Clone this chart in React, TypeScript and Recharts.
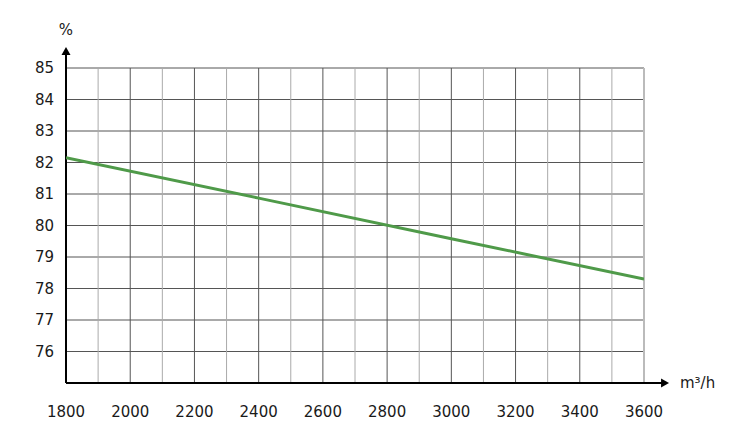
import React from "react";
import {
  LineChart,
  Line,
  XAxis,
  YAxis,
  CartesianGrid,
  ReferenceLine,
  ReferenceDot,
} from "recharts";

// efficiency curve
const airflow = [1800, 2400, 3000, 3600];
const efficiency = [82.15, 80.87, 79.58, 78.3];

const xTicks = [1800, 2000, 2200, 2400, 2600, 2800, 3000, 3200, 3400, 3600];
const yTicks = [76, 77, 78, 79, 80, 81, 82, 83, 84, 85];
const majorX = [2000, 2200, 2400, 2600, 2800, 3000, 3200, 3400];
const minorX = [1900, 2100, 2300, 2500, 2700, 2900, 3100, 3300, 3500];

const data = airflow.map((x, i) => ({ x, y: efficiency[i] }));

const FONT = "DejaVu Sans, sans-serif";
const TEXT = "#1a1a1a";

const UpArrow = (props: any) => {
  const { cx, cy } = props;
  return <path d={`M${cx},${cy} L${cx - 4.5},${cy + 8} L${cx + 4.5},${cy + 8} Z`} fill="#000" />;
};

const RightArrow = (props: any) => {
  const { cx, cy } = props;
  return <path d={`M${cx},${cy} L${cx - 8},${cy - 4.5} L${cx - 8},${cy + 4.5} Z`} fill="#000" />;
};

const Label = (text: string, anchor: "start" | "middle") => (props: any) => {
  const { cx, cy } = props;
  return (
    <text x={cx} y={cy} textAnchor={anchor} dominantBaseline="central" fontFamily={FONT} fontSize={15} fill={TEXT}>
      {text}
    </text>
  );
};

export default function App() {
  return (
    <div style={{ position: "absolute", left: 0, top: 0, width: 750, height: 437, background: "#fff" }}>
      <LineChart width={750} height={437} data={data} margin={{ top: 68, right: 106, left: 0, bottom: 0 }}>
        <CartesianGrid vertical={false} stroke="#555" strokeWidth={1} />
        {minorX.map((v) => (
          <ReferenceLine key={v} x={v} stroke="#aaa" strokeWidth={1} />
        ))}
        {majorX.map((v) => (
          <ReferenceLine key={v} x={v} stroke="#555" strokeWidth={1} />
        ))}
        <ReferenceLine x={3600} stroke="#bbb" strokeWidth={2} />
        <XAxis
          dataKey="x"
          type="number"
          domain={[1800, 3600]}
          ticks={xTicks}
          height={54}
          axisLine={false}
          tickLine={false}
          tickSize={0}
          tickMargin={23}
          tick={{ fontFamily: FONT, fontSize: 15, fill: TEXT }}
          allowDataOverflow
        />
        <YAxis
          type="number"
          domain={[75, 85]}
          ticks={yTicks}
          width={66}
          axisLine={false}
          tickLine={false}
          tickSize={0}
          tickMargin={12}
          tick={{ fontFamily: FONT, fontSize: 15, fill: TEXT }}
          allowDataOverflow
        />
        <ReferenceLine
          segment={[{ x: 1800, y: 75 }, { x: 1800, y: 85.45 }]}
          stroke="#000"
          strokeWidth={2}
          ifOverflow="visible"
        />
        <ReferenceLine
          segment={[{ x: 1800, y: 75 }, { x: 3656, y: 75 }]}
          stroke="#000"
          strokeWidth={2}
          ifOverflow="visible"
        />
        <ReferenceDot x={1800} y={85.67} ifOverflow="visible" shape={UpArrow} />
        <ReferenceDot x={3678} y={75} ifOverflow="visible" shape={RightArrow} />
        <ReferenceDot x={1800} y={86.2} ifOverflow="visible" shape={Label("%", "middle")} />
        <ReferenceDot x={3712} y={75} ifOverflow="visible" shape={Label("m³/h", "start")} />
        <Line
          type="linear"
          dataKey="y"
          stroke="#4f9a49"
          strokeWidth={3}
          dot={false}
          activeDot={false}
          isAnimationActive={false}
        />
      </LineChart>
    </div>
  );
}
